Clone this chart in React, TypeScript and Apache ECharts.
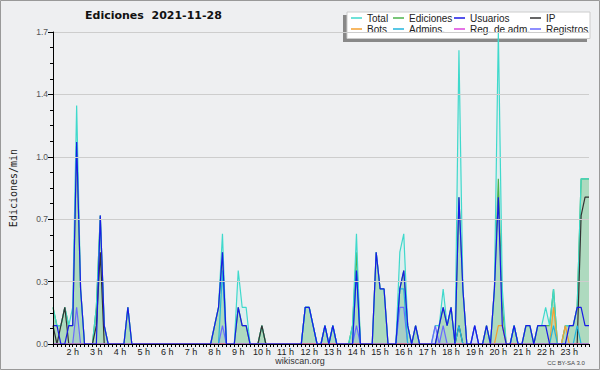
import React, { useEffect, useRef } from "react";
import * as echarts from "echarts";

// 10-minute slots from 01:10 to 23:50
const SLOT_START_MIN = 70;
const SLOT_STEP_MIN = 10;
const SLOT_COUNT = 137;
const CATEGORIES: string[] = [];
for (let i = 0; i < SLOT_COUNT; i++) {
  const m = SLOT_START_MIN + i * SLOT_STEP_MIN;
  const hh = String(Math.floor(m / 60)).padStart(2, "0");
  const mm = String(m % 60).padStart(2, "0");
  CATEGORIES.push(hh + ":" + mm);
}

const HOUR_LABELS = [
  "2 h", "3 h", "4 h", "5 h", "6 h", "7 h", "8 h", "9 h", "10 h", "11 h", "12 h",
  "13 h", "14 h", "15 h", "16 h", "17 h", "18 h", "19 h", "20 h", "21 h", "22 h", "23 h",
];

const Y_TICKS = [0, 0.34, 0.68, 1.02, 1.36, 1.7];

// edits / min
const TOTAL = [
  0.2, 0.1, 0.1, 0.2, 0.1, 0.2, 1.3, 0.3, 0, 0, 0, 0.2,
  0.7, 0.1, 0, 0, 0, 0, 0, 0.2, 0, 0, 0, 0,
  0, 0, 0, 0, 0, 0, 0, 0, 0, 0, 0, 0,
  0, 0, 0, 0, 0, 0.1, 0.2, 0.6, 0, 0, 0, 0.4,
  0.2, 0.2, 0, 0, 0, 0.1, 0, 0, 0, 0, 0, 0,
  0, 0, 0, 0, 0.2, 0.2, 0.1, 0, 0, 0.1, 0, 0.1,
  0, 0, 0, 0, 0.1, 0.6, 0, 0, 0, 0, 0.5, 0.3,
  0.3, 0, 0, 0, 0.5, 0.6, 0.1, 0, 0.1, 0, 0, 0,
  0, 0.1, 0.1, 0.3, 0.1, 0.2, 0, 1.6, 0.3, 0, 0, 0.1,
  0, 0, 0.1, 0, 0.3, 1.7, 0.3, 0, 0, 0.1, 0, 0,
  0.1, 0.1, 0, 0.1, 0.1, 0.2, 0.1, 0.3, 0, 0, 0.1, 0.1,
  0.1, 0.2, 0.9, 0.9, 0.9,
];

const EDICIONES = [
  0.2, 0.1, 0.1, 0.2, 0.1, 0.1, 1.1, 0.3, 0, 0, 0, 0.2,
  0.7, 0.1, 0, 0, 0, 0, 0, 0.2, 0, 0, 0, 0,
  0, 0, 0, 0, 0, 0, 0, 0, 0, 0, 0, 0,
  0, 0, 0, 0, 0, 0.1, 0.2, 0.5, 0, 0, 0, 0.2,
  0.1, 0.1, 0, 0, 0, 0.1, 0, 0, 0, 0, 0, 0,
  0, 0, 0, 0, 0.2, 0.2, 0.1, 0, 0, 0.1, 0, 0.1,
  0, 0, 0, 0, 0.1, 0.5, 0, 0, 0, 0, 0.5, 0.3,
  0.3, 0, 0, 0, 0.3, 0.4, 0.1, 0, 0.1, 0, 0, 0,
  0, 0, 0.1, 0.2, 0.1, 0.2, 0, 0.8, 0.3, 0, 0, 0,
  0, 0, 0.1, 0, 0.3, 0.9, 0.2, 0, 0, 0.1, 0, 0,
  0.1, 0.1, 0, 0.1, 0.1, 0.1, 0.1, 0.3, 0, 0, 0.1, 0.1,
  0.1, 0.2, 0.9, 0.9, 0.9,
];

const USUARIOS = [
  0.1, 0.1, 0, 0, 0.1, 0.1, 1.1, 0.3, 0, 0, 0, 0,
  0.7, 0.1, 0, 0, 0, 0, 0, 0.2, 0, 0, 0, 0,
  0, 0, 0, 0, 0, 0, 0, 0, 0, 0, 0, 0,
  0, 0, 0, 0, 0, 0.1, 0.2, 0.5, 0, 0, 0, 0.2,
  0.1, 0.1, 0, 0, 0, 0, 0, 0, 0, 0, 0, 0,
  0, 0, 0, 0, 0.2, 0.2, 0.1, 0, 0, 0.1, 0, 0.1,
  0, 0, 0, 0, 0, 0.4, 0, 0, 0, 0, 0.5, 0.3,
  0.3, 0, 0, 0, 0.3, 0.4, 0.1, 0, 0.1, 0, 0, 0,
  0, 0, 0.1, 0.2, 0.1, 0.2, 0, 0.8, 0.3, 0, 0, 0.1,
  0, 0, 0.1, 0, 0.3, 0.8, 0.1, 0, 0, 0.1, 0, 0,
  0.1, 0.1, 0, 0.1, 0.1, 0.1, 0, 0, 0, 0, 0, 0.1,
  0.1, 0.2, 0.2, 0.1, 0.1,
];

const IP = [
  0.1, 0, 0.1, 0.2, 0, 0, 0, 0, 0, 0, 0, 0.1,
  0.5, 0, 0, 0, 0, 0, 0, 0, 0, 0, 0, 0,
  0, 0, 0, 0, 0, 0, 0, 0, 0, 0, 0, 0,
  0, 0, 0, 0, 0, 0, 0, 0, 0, 0, 0, 0,
  0, 0, 0, 0, 0, 0.1, 0, 0, 0, 0, 0, 0,
  0, 0, 0, 0, 0, 0, 0, 0, 0, 0, 0, 0,
  0, 0, 0, 0, 0, 0, 0, 0, 0, 0, 0, 0,
  0, 0, 0, 0, 0, 0, 0, 0, 0, 0, 0, 0,
  0, 0, 0, 0, 0, 0, 0, 0.1, 0, 0, 0, 0,
  0, 0, 0, 0, 0, 0, 0, 0, 0, 0, 0, 0,
  0, 0, 0, 0, 0, 0, 0, 0, 0, 0, 0, 0,
  0, 0, 0.7, 0.8, 0.8,
];

const BOTS = [
  0, 0, 0, 0, 0, 0, 0, 0, 0, 0, 0, 0,
  0, 0, 0, 0, 0, 0, 0, 0, 0, 0, 0, 0,
  0, 0, 0, 0, 0, 0, 0, 0, 0, 0, 0, 0,
  0, 0, 0, 0, 0, 0, 0, 0, 0, 0, 0, 0,
  0, 0, 0, 0, 0, 0, 0, 0, 0, 0, 0, 0,
  0, 0, 0, 0, 0, 0, 0, 0, 0, 0, 0, 0,
  0, 0, 0, 0, 0, 0, 0, 0, 0, 0, 0, 0,
  0, 0, 0, 0, 0, 0, 0, 0, 0, 0, 0, 0,
  0, 0, 0, 0, 0, 0, 0, 0, 0, 0, 0, 0,
  0, 0, 0, 0, 0, 0.1, 0.1, 0, 0, 0, 0, 0,
  0, 0, 0, 0, 0, 0, 0, 0.2, 0, 0, 0.1, 0,
  0, 0, 0, 0, 0,
];

const ADMINS = [
  0, 0, 0, 0, 0, 0, 0, 0, 0, 0, 0, 0,
  0, 0, 0, 0, 0, 0, 0, 0, 0, 0, 0, 0,
  0, 0, 0, 0, 0, 0, 0, 0, 0, 0, 0, 0,
  0, 0, 0, 0, 0, 0, 0, 0.4, 0, 0, 0, 0,
  0, 0, 0, 0, 0, 0, 0, 0, 0, 0, 0, 0,
  0, 0, 0, 0, 0.2, 0.2, 0.1, 0, 0, 0.1, 0, 0.1,
  0, 0, 0, 0, 0, 0.4, 0, 0, 0, 0, 0, 0,
  0, 0, 0, 0, 0.3, 0.3, 0, 0, 0, 0, 0, 0,
  0, 0, 0, 0, 0, 0, 0, 0.1, 0, 0, 0, 0,
  0, 0, 0, 0, 0, 0, 0, 0, 0, 0.1, 0, 0,
  0, 0, 0, 0, 0, 0, 0, 0.1, 0, 0, 0, 0,
  0, 0.1, 0, 0, 0,
];

const REG_ADM = [
  0, 0, 0, 0, 0, 0, 0, 0, 0, 0, 0, 0,
  0, 0, 0, 0, 0, 0, 0, 0, 0, 0, 0, 0,
  0, 0, 0, 0, 0, 0, 0, 0, 0, 0, 0, 0,
  0, 0, 0, 0, 0, 0, 0, 0, 0, 0, 0, 0,
  0, 0, 0, 0, 0, 0, 0, 0, 0, 0, 0, 0,
  0, 0, 0, 0, 0, 0, 0, 0, 0, 0, 0, 0,
  0, 0, 0, 0, 0, 0, 0, 0, 0, 0, 0, 0,
  0, 0, 0, 0, 0, 0, 0, 0, 0, 0, 0, 0,
  0, 0, 0, 0, 0, 0, 0, 0, 0, 0, 0, 0,
  0, 0, 0, 0, 0, 0, 0, 0, 0, 0, 0, 0,
  0, 0, 0, 0, 0, 0, 0, 0, 0, 0, 0, 0,
  0, 0, 0, 0, 0,
];

const REGISTROS = [
  0, 0, 0, 0, 0, 0, 0.2, 0, 0, 0, 0, 0,
  0, 0, 0, 0, 0, 0, 0, 0, 0, 0, 0, 0,
  0, 0, 0, 0, 0, 0, 0, 0, 0, 0, 0, 0,
  0, 0, 0, 0, 0, 0, 0, 0.1, 0, 0, 0, 0,
  0, 0, 0, 0, 0, 0, 0, 0, 0, 0, 0, 0,
  0, 0, 0, 0, 0, 0, 0, 0, 0, 0, 0, 0,
  0, 0, 0, 0, 0, 0.1, 0, 0, 0, 0, 0, 0,
  0, 0, 0, 0, 0.2, 0.2, 0, 0, 0, 0, 0, 0,
  0, 0.1, 0, 0.1, 0, 0, 0, 0, 0, 0, 0, 0.1,
  0, 0, 0, 0, 0, 0, 0, 0, 0, 0, 0, 0,
  0, 0, 0, 0, 0, 0, 0, 0, 0, 0, 0, 0,
  0, 0, 0, 0, 0,
];

const LEGEND_COLUMNS = [
  ["Total", "Bots"],
  ["Ediciones", "Admins."],
  ["Usuarios", "Reg. de adm."],
  ["IP", "Registros"],
];
const LEGEND_LEFT = [351, 393, 454, 530];

const BG = "#eeeff1";

function lineSeries(name: string, data: number[], color: string, extra: any = {}) {
  return {
    name,
    type: "line",
    data,
    symbol: "none",
    showSymbol: false,
    lineStyle: { color, width: 1.2 },
    itemStyle: { color },
    ...extra,
  };
}

export default function App() {
  const ref = useRef<HTMLDivElement>(null);
  useEffect(() => {
    if (!ref.current) return;
    const chart = echarts.init(ref.current, null, { renderer: "svg" });
    const option: any = {
      animation: false,
      backgroundColor: BG,
      title: {
        text: "Ediciones  2021-11-28",
        left: 85,
        top: 10,
        padding: 0,
        textStyle: { fontFamily: "DejaVu Sans", fontWeight: "bold", fontSize: 11, color: "#111" },
      },
      legend: LEGEND_COLUMNS.map((col, i) => ({
        data: col,
        left: LEGEND_LEFT[i],
        top: 12.5,
        orient: "vertical",
        itemGap: 0,
        itemWidth: 11,
        itemHeight: 1.5,
        icon: "rect",
        padding: 0,
        selectedMode: false,
        z: 5,
        textStyle: { fontFamily: "Liberation Sans", fontSize: 10, color: "#222", lineHeight: 11 },
      })),
      grid: { left: 46, right: 11, top: 32, bottom: 26, containLabel: false },
      xAxis: {
        type: "category",
        data: CATEGORIES,
        boundaryGap: false,
        z: 10,
        axisLine: { show: true, lineStyle: { color: "#000", width: 1 } },
        axisTick: { show: true, interval: 0, length: 3, lineStyle: { color: "#000" } },
        axisLabel: {
          interval: (idx: number, v: string) => v.endsWith(":00"),
          formatter: (v: string) => HOUR_LABELS[parseInt(v, 10) - 2] ?? "",
          fontFamily: "Liberation Sans",
          fontSize: 9,
          color: "#222",
          margin: 3,
        },
        splitLine: { show: false },
      },
      yAxis: {
        type: "value",
        min: Y_TICKS[0],
        max: Y_TICKS[Y_TICKS.length - 1],
        interval: Y_TICKS[1],
        z: 10,
        name: "Ediciones/min",
        nameLocation: "middle",
        nameGap: 35,
        nameTextStyle: { fontFamily: "DejaVu Sans Mono", fontSize: 10, color: "#222" },
        axisLine: { show: true, lineStyle: { color: "#000", width: 1 } },
        axisTick: { show: true, length: 5, lineStyle: { color: "#000" } },
        minorTick: { show: true, splitNumber: 4, length: 3, lineStyle: { color: "#000" } },
        splitLine: { show: true, lineStyle: { color: "#cdcdcd", width: 1 } },
        axisLabel: {
          formatter: (v: number) => v.toFixed(1),
          fontFamily: "Liberation Sans",
          fontSize: 8.5,
          color: "#555",
          margin: 5,
        },
      },
      series: [
        lineSeries("Ediciones", EDICIONES, "#4db34d", { areaStyle: { color: "rgba(88,177,96,0.6)" } }),
        lineSeries("Total", TOTAL, "#3fd9cc", { areaStyle: { color: "rgba(170,235,230,0.3)" } }),
        lineSeries("Registros", REGISTROS, "#6a6aff", { areaStyle: { color: "rgba(110,110,255,0.15)" } }),
        lineSeries("IP", IP, "#333333"),
        lineSeries("Bots", BOTS, "#f5a030"),
        lineSeries("Admins.", ADMINS, "#22b5dd"),
        lineSeries("Reg. de adm.", REG_ADM, "#dd44dd"),
        lineSeries("Usuarios", USUARIOS, "#1a1ae6"),
      ],
      graphic: [
        { type: "rect", z: 1, shape: { x: 343, y: 15, width: 244, height: 27 }, style: { fill: "#888" } },
        { type: "rect", z: 2, shape: { x: 347, y: 12, width: 243, height: 26.5 }, style: { fill: "#fff", stroke: "#ccc", lineWidth: 1 } },
        {
          type: "text", z: 5, x: 300, y: 361,
          style: { text: "wikiscan.org", fill: "#333", font: '9px "Liberation Sans"', align: "center", verticalAlign: "middle", textAlign: "center", textVerticalAlign: "middle" },
        },
        {
          type: "text", z: 5, x: 566, y: 363,
          style: { text: "CC BY-SA 3.0", fill: "#444", font: '6px "Liberation Sans"', align: "center", verticalAlign: "middle", textAlign: "center", textVerticalAlign: "middle" },
        },
        { type: "rect", z: 100, shape: { x: 0.5, y: 0.5, width: 599, height: 369 }, style: { fill: "none", stroke: "#999", lineWidth: 1 } },
      ],
    };
    chart.setOption(option);
    return () => chart.dispose();
  }, []);
  return <div ref={ref} style={{ position: "fixed", left: 0, top: 0, width: 600, height: 370 }} />;
}
